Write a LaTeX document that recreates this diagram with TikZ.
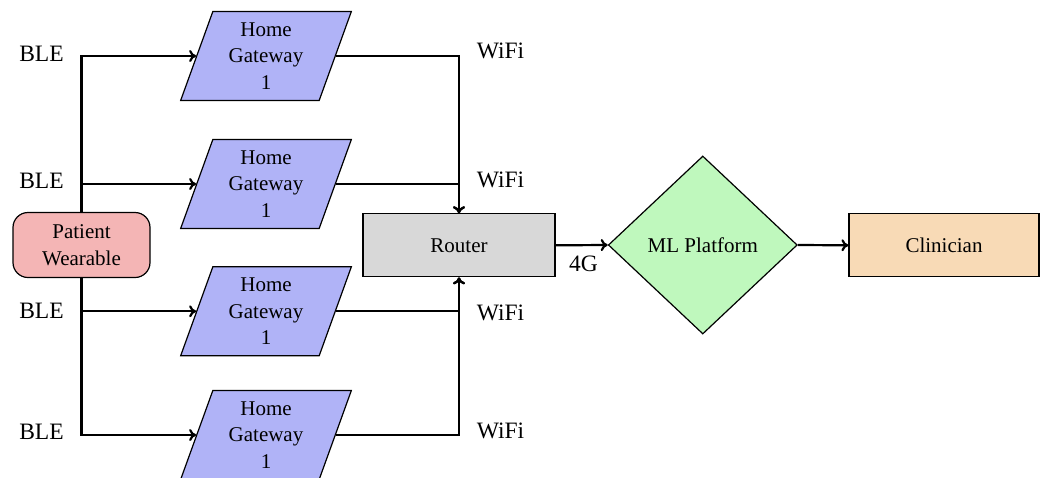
\documentclass[tikz,border=0pt]{standalone}
\usepackage{fontspec}
\setmainfont{Liberation Serif}
\usetikzlibrary{shapes.geometric,arrows.meta}
\definecolor{gwfill}{HTML}{B0B3F7}
\definecolor{pwfill}{HTML}{F4B5B5}
\definecolor{mlfill}{HTML}{BFF8BD}
\definecolor{rtfill}{HTML}{D8D8D8}
\definecolor{clfill}{HTML}{F8DAB6}
\begin{document}
\begin{tikzpicture}[x=1pt,y=-1pt,
  box/.style={draw=black,line width=1.2pt,align=center,font=\fontsize{21}{26.7}\selectfont},
  gw/.style={box,trapezium,trapezium left angle=71.4,trapezium right angle=108.6,
    trapezium stretches=true,minimum width=171pt,minimum height=89pt,fill=gwfill,inner sep=0pt},
  conn/.style={line width=2.2pt,-{To[length=7pt,width=12pt]}},
  lab/.style={font=\fontsize{23.5}{28}\selectfont,inner sep=0pt}]
\useasboundingbox (0,0) rectangle (1044,477);
\clip (0,0) rectangle (1044,477);

\node[box,fill=pwfill,rounded corners=15pt,minimum width=137pt,minimum height=65pt,inner sep=0pt] (pw) at (81.5,245) {Patient\\Wearable};

\node[gw] (g1) at (266,56) {Home\\Gateway\\1};
\node[gw] (g2) at (266,184) {Home\\Gateway\\1};
\node[gw] (g3) at (266,311.3) {Home\\Gateway\\1};
\node[gw] (g4) at (266,435) {Home\\Gateway\\1};

\node[box,fill=rtfill,minimum width=192pt,minimum height=63pt,inner sep=0pt] (rt) at (459,245.3) {Router};
\node[box,diamond,fill=mlfill,minimum width=189pt,minimum height=178pt,aspect=1.06,inner sep=0pt] (ml) at (702.8,245) {ML Platform};
\node[box,fill=clfill,minimum width=190pt,minimum height=63pt,inner sep=0pt] (cl) at (944,245.3) {Clinician};

\node[lab] (b1) at (41.5,54.2) {BLE};
\node[lab] (b2) at (41.5,180.8) {BLE};
\node[lab] (b3) at (41.5,310.7) {BLE};
\node[lab] (b4) at (41.5,431.6) {BLE};

\node[lab] (w1) at (500.5,51) {WiFi};
\node[lab] (w2) at (500.5,180) {WiFi};
\node[lab] (w3) at (500.5,313.3) {WiFi};
\node[lab] (w4) at (500.5,431.2) {WiFi};

\node[lab] (fg) at (583.5,264) {4G};

\draw[conn] (pw.north) |- (g1.west);
\draw[conn] (pw.north) |- (g2.west);
\draw[conn] (pw.south) |- (g3.west);
\draw[conn] (pw.south) |- (g4.west);

\draw[conn] (g1.east) -| (rt.north);
\draw[conn] (g2.east) -| (rt.north);
\draw[conn] (g3.east) -| (rt.south);
\draw[conn] (g4.east) -| (rt.south);

\draw[conn] (rt.east) -- (ml.west);
\draw[conn] (ml.east) -- (cl.west);
\end{tikzpicture}
\end{document}
